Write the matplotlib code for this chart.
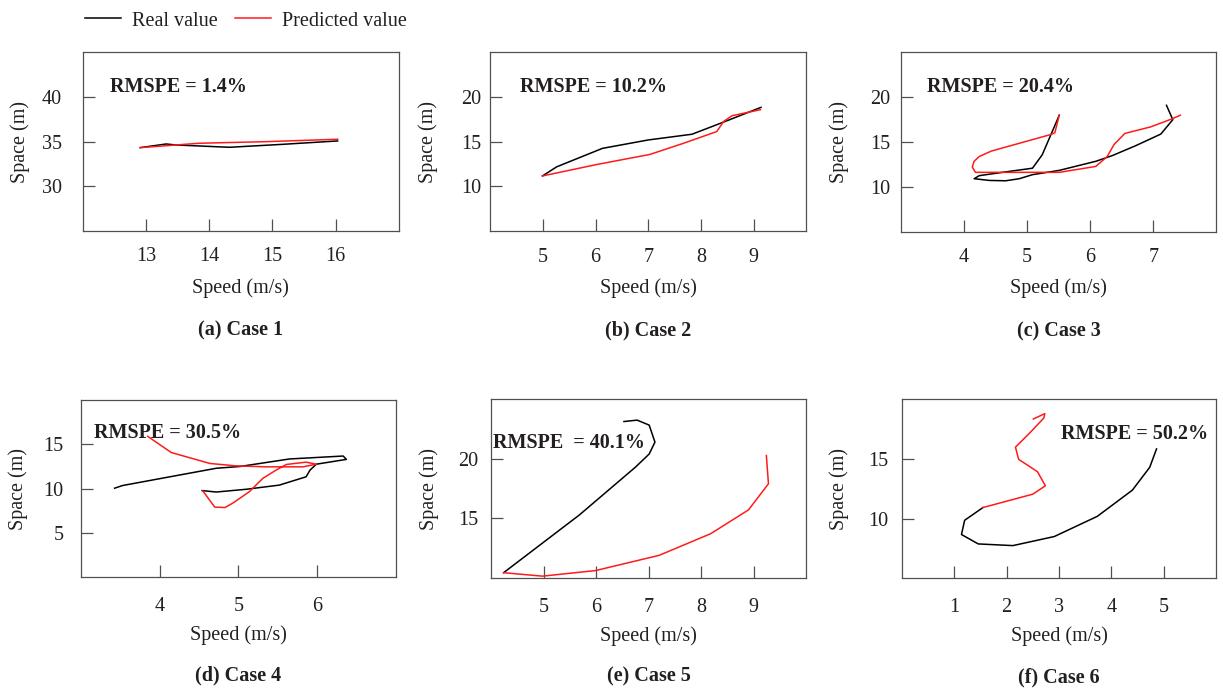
import matplotlib
matplotlib.use("Agg")
import matplotlib.pyplot as plt
from matplotlib.lines import Line2D

plt.rcParams["font.family"] = ["Liberation Serif", "DejaVu Serif"]
plt.rcParams["font.size"] = 14.5

TEXT_C = "#231f20"
SPINE_C = "#505050"

# speed (m/s) / space (m) trajectories per case
case1_real_speed = [12.91, 13.32, 13.47, 14.32, 15.16, 16.03]
case1_real_space = [34.33, 34.74, 34.63, 34.37, 34.70, 35.08]
case1_pred_speed = [12.91, 13.84, 14.90, 16.03]
case1_pred_space = [34.33, 34.82, 35.00, 35.27]

case2_real_speed = [4.99, 5.26, 6.13, 7.00, 7.83, 8.46, 9.14]
case2_real_space = [11.16, 12.18, 14.25, 15.19, 15.83, 17.26, 18.84]
case2_pred_speed = [4.99, 6.02, 7.03, 7.67, 8.30, 8.43, 8.59, 9.13]
case2_pred_space = [11.16, 12.44, 13.57, 14.82, 16.13, 17.26, 17.90, 18.58]

case3_real_speed = [5.51, 5.24, 5.085, 4.72, 4.24, 4.16, 4.40, 4.66, 4.875,
                    5.085, 5.51, 6.09, 6.35, 6.72, 7.12, 7.31, 7.21]
case3_real_space = [18.0, 13.6, 12.1, 11.75, 11.27, 10.93, 10.74, 10.70, 10.93,
                    11.38, 11.86, 12.87, 13.5, 14.6, 15.9, 17.5, 19.1]
case3_pred_speed = [5.51, 5.44, 5.38, 4.43, 4.24, 4.16, 4.13, 4.18, 5.51,
                    6.09, 6.27, 6.38, 6.55, 6.96, 7.30, 7.43]
case3_pred_space = [18.0, 16.05, 15.86, 14.0, 13.4, 12.87, 12.24, 11.64, 11.64,
                    12.3, 13.4, 14.75, 15.97, 16.7, 17.6, 18.0]

case4_real_speed = [4.54, 4.72, 5.10, 5.52, 5.86, 5.91, 5.99, 6.37, 6.33,
                    5.65, 5.02, 4.72, 4.17, 3.53, 3.43]
case4_real_space = [9.78, 9.62, 9.93, 10.4, 11.34, 12.1, 12.76, 13.3, 13.68,
                    13.35, 12.5, 12.3, 11.4, 10.35, 10.05]
case4_pred_speed = [3.85, 4.15, 4.64, 4.97, 5.36, 5.82, 5.99, 5.86, 5.61,
                    5.48, 5.31, 5.14, 4.93, 4.83, 4.70, 4.55]
case4_pred_space = [15.9, 14.07, 12.84, 12.57, 12.46, 12.46, 12.76, 12.99, 12.73,
                    12.1, 11.16, 9.66, 8.37, 7.87, 7.92, 9.74]

case5_real_speed = [6.53, 6.78, 7.01, 7.12, 7.01, 6.75, 5.68, 4.24]
case5_real_space = [23.13, 23.25, 22.83, 21.4, 20.4, 19.3, 15.27, 10.42]
case5_pred_speed = [4.24, 4.98, 5.99, 7.20, 8.18, 8.90, 9.28, 9.24]
case5_pred_space = [10.42, 10.13, 10.6, 11.88, 13.7, 15.7, 17.9, 20.27]

case6_real_speed = [4.86, 4.73, 4.40, 3.73, 2.91, 2.12, 1.46, 1.14, 1.20, 1.55]
case6_real_space = [15.84, 14.3, 12.39, 10.19, 8.5, 7.74, 7.88, 8.67, 9.86, 10.93]
case6_pred_speed = [1.55, 2.50, 2.74, 2.59, 2.23, 2.17, 2.44, 2.71, 2.73, 2.51]
case6_pred_space = [10.93, 12.05, 12.75, 13.93, 14.97, 15.99, 17.17, 18.43, 18.8, 18.35]

rmspe_labels = ["RMSPE = 1.4%", "RMSPE = 10.2%", "RMSPE = 20.4%",
                "RMSPE = 30.5%", "RMSPE  = 40.1%", "RMSPE = 50.2%"]
case_titles = ["(a) Case 1", "(b) Case 2", "(c) Case 3",
               "(d) Case 4", "(e) Case 5", "(f) Case 6"]
x_limits = [(12, 17), (4, 10), (3, 8), (3, 7), (4, 10), (0, 6)]
y_limits = [(25, 45), (5, 25), (5, 25), (0, 20), (10, 25), (5, 20)]
x_ticks = [[13, 14, 15, 16], [5, 6, 7, 8, 9], [4, 5, 6, 7],
           [4, 5, 6], [5, 6, 7, 8, 9], [1, 2, 3, 4, 5]]
y_ticks = [[30, 35, 40], [10, 15, 20], [10, 15, 20],
           [5, 10, 15], [15, 20], [10, 15]]

real = [(case1_real_speed, case1_real_space), (case2_real_speed, case2_real_space),
        (case3_real_speed, case3_real_space), (case4_real_speed, case4_real_space),
        (case5_real_speed, case5_real_space), (case6_real_speed, case6_real_space)]
pred = [(case1_pred_speed, case1_pred_space), (case2_pred_speed, case2_pred_space),
        (case3_pred_speed, case3_pred_space), (case4_pred_speed, case4_pred_space),
        (case5_pred_speed, case5_pred_space), (case6_pred_speed, case6_pred_space)]

# layout in pixels: left, right, top, bottom of each panel
W, H = 1223, 691
boxes = [(82.7, 399, 52.3, 231), (490.3, 806.3, 52.3, 231), (901, 1216.3, 52.3, 232),
         (80.7, 396, 400, 577.3), (491, 806.3, 399.3, 577.7), (901.7, 1216.3, 399.3, 578.3)]
rmspe_pos = [(0.086, 0.780), (0.094, 0.780), (0.083, 0.780),
             (0.043, 0.784), (0.007, 0.725), (0.505, 0.777)]
ypads = [15, 6.2, 7.9, 12.2, 9.1, 9.6]
xpads = [11.3, 12.5, 11.5, 14.0, 14.8, 14.4]
xlab_y = [-0.265, -0.265, -0.26, -0.269, -0.275, -0.27]

fig = plt.figure(figsize=(W / 100, H / 100), dpi=100)

for i in range(6):
    l, r, t, b = boxes[i]
    ax = fig.add_axes([l / W, 1 - b / H, (r - l) / W, (b - t) / H])
    ax.plot(*real[i], color="black", lw=1.1)
    ax.plot(*pred[i], color="#ff1a1a", lw=1.1)
    ax.set_xlim(*x_limits[i])
    ax.set_ylim(*y_limits[i])
    ax.set_xticks(x_ticks[i])
    ax.set_yticks(y_ticks[i])
    ax.tick_params(direction="in", length=8.6, width=0.9, color=SPINE_C,
                   labelcolor=TEXT_C, labelsize=14.5)
    ax.tick_params(axis="x", pad=xpads[i])
    ax.tick_params(axis="y", pad=ypads[i])
    for sp in ax.spines.values():
        sp.set_color(SPINE_C)
        sp.set_linewidth(0.9)
    ax.set_xlabel("Speed (m/s)", color=TEXT_C)
    ax.set_ylabel("Space (m)", color=TEXT_C)
    ax.xaxis.set_label_coords(0.5, xlab_y[i])
    ax.yaxis.set_label_coords(-0.166, 0.5)
    ax.text(*rmspe_pos[i], rmspe_labels[i], transform=ax.transAxes,
            ha="left", va="baseline", fontweight="bold", color=TEXT_C)
    ax.text(0.5, -0.555, case_titles[i], transform=ax.transAxes,
            ha="center", va="center", fontweight="bold", color=TEXT_C)

handles = [Line2D([], [], color="black", lw=1.1),
           Line2D([], [], color="#ff1a1a", lw=1.1)]
fig.legend(handles, ["Real value", "Predicted value"], loc="center left",
           bbox_to_anchor=(85 / W, 1 - 21 / H), ncol=2, frameon=False,
           borderpad=0, borderaxespad=0, handlelength=1.78, handletextpad=0.55,
           columnspacing=0.85, fontsize=14.5, labelcolor=TEXT_C)

fig.savefig("out.png", dpi=100)
